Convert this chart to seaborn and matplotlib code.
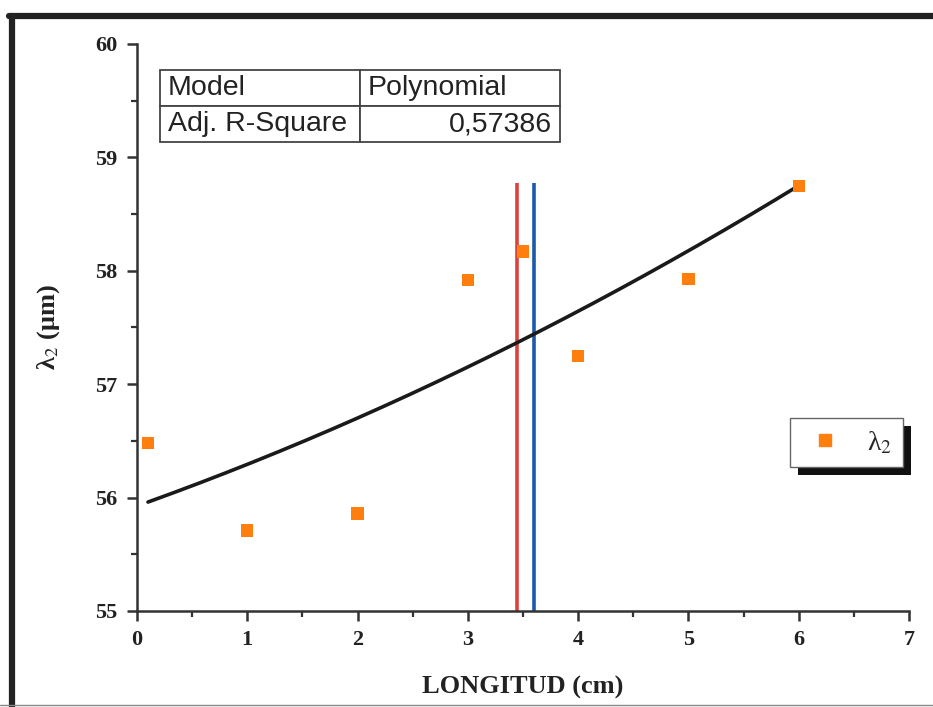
import numpy as np
import pandas as pd
import matplotlib
matplotlib.use("Agg")
import matplotlib.pyplot as plt
from matplotlib.patches import Rectangle
from matplotlib.lines import Line2D
from matplotlib.ticker import MultipleLocator
import seaborn as sns

# Measured wavelength lambda_2 against length
longitud = [0.1, 1, 2, 3, 3.5, 4, 5, 6]
lambda2 = [56.48, 55.71, 55.86, 57.92, 58.17, 57.25, 57.93, 58.75]

# Reference positions marked by vertical lines
red_x = 3.45
blue_x = 3.6
vline_top = 58.77

# Fit summary shown in the table
model_name = "Polynomial"
adj_r2 = "0,57386"

sns.set_theme(style="white")
plt.rcParams["font.family"] = ["Liberation Serif", "DejaVu Serif"]
plt.rcParams["mathtext.fontset"] = "stix"

df = pd.DataFrame({"x": longitud, "y": lambda2})

# Quadratic least-squares fit
coef = np.polyfit(df["x"], df["y"], 2)
xf = np.linspace(min(longitud), max(longitud), 200)
fit = pd.DataFrame({"x": xf, "y": np.polyval(coef, xf)})

fig = plt.figure(figsize=(9.33, 7.07), dpi=100)
ax = fig.add_axes([0.1468, 0.1358, 0.8275, 0.802])

ax.vlines(red_x, 55, vline_top, color="#d9423f", lw=2.6, zorder=2)
ax.vlines(blue_x, 55, vline_top, color="#1b5aa8", lw=2.6, zorder=2)
sns.lineplot(data=fit, x="x", y="y", ax=ax, color="#1a1a1a", lw=2.6, zorder=3)
sns.scatterplot(data=df, x="x", y="y", ax=ax, marker="s", s=80, color="#ff7f0e",
                edgecolor="none", zorder=4)

ax.set_xlim(0, 7)
ax.set_ylim(55, 60)
ax.xaxis.set_major_locator(MultipleLocator(1))
ax.xaxis.set_minor_locator(MultipleLocator(0.5))
ax.yaxis.set_major_locator(MultipleLocator(1))
ax.yaxis.set_minor_locator(MultipleLocator(0.5))
for s in ["top", "right"]:
    ax.spines[s].set_visible(False)
for s in ["left", "bottom"]:
    ax.spines[s].set_color("#333333")
    ax.spines[s].set_linewidth(1.8)
ax.tick_params(which="major", direction="out", length=7, width=1.8, color="#333333",
               labelsize=16, pad=7, left=True, bottom=True)
ax.tick_params(which="minor", direction="out", length=4, width=1.6, color="#333333",
               left=True, bottom=True)
for lab in ax.get_xticklabels() + ax.get_yticklabels():
    lab.set_fontweight("bold")
    lab.set_color("#222222")

ax.set_xlabel("LONGITUD (cm)", fontsize=19, fontweight="bold", color="#222222", labelpad=18)
ax.set_ylabel("λ$_2$ (μm)", fontsize=19, fontweight="bold", color="#222222", labelpad=24)

# Fit summary table
tab = ax.table(cellText=[["Model", model_name], ["Adj. R-Square", adj_r2]],
               cellLoc="left", bbox=[0.0298, 0.827, 0.518, 0.127], zorder=6)
tab.auto_set_font_size(False)
for (r, c), cell in tab.get_celld().items():
    cell.set_edgecolor("#444444")
    cell.set_linewidth(1.3)
    cell.set_facecolor("white")
    cell.get_text().set_fontfamily("Liberation Sans")
    cell.get_text().set_fontsize(20.5)
    cell.get_text().set_color("#222222")
    cell.PAD = 0.04
    if (r, c) == (1, 1):
        cell.get_text().set_horizontalalignment("right")
        cell._loc = "right"

# Legend with a solid drop shadow
handle = Line2D([], [], marker="s", ls="none", color="#ff7f0e", markersize=8)
leg = ax.legend([handle], ["λ$_2$"], loc="upper left",
                bbox_to_anchor=(0.846, 0.340), borderaxespad=0,
                fancybox=False, frameon=True, framealpha=1.0, edgecolor="#666666",
                fontsize=20, handlelength=1.7, handletextpad=0.65, borderpad=0.4)
leg.get_frame().set_linewidth(1.0)
leg.set_zorder(6)
fig.canvas.draw()
bb = leg.get_window_extent().transformed(ax.transAxes.inverted())
dx = 8 / (0.8275 * 933)
dy = 8 / (0.802 * 707)
ax.add_patch(Rectangle((bb.x0 + dx, bb.y0 - dy), bb.width, bb.height,
                       transform=ax.transAxes, facecolor="#111111", edgecolor="none",
                       zorder=5.9, clip_on=False))

# Outer frame
fig.add_artist(Line2D([0.0095, 1.0], [1 - 15.5 / 707, 1 - 15.5 / 707], color="#222222",
                      lw=4.5, transform=fig.transFigure))
fig.add_artist(Line2D([11.5 / 933, 11.5 / 933], [1 - 15.5 / 707, 0.0], color="#222222",
                      lw=4.5, transform=fig.transFigure))
fig.add_artist(Line2D([0.0, 1.0], [2 / 707, 2 / 707], color="#888888",
                      lw=1.0, transform=fig.transFigure))

fig.savefig("out.png", dpi=100)
